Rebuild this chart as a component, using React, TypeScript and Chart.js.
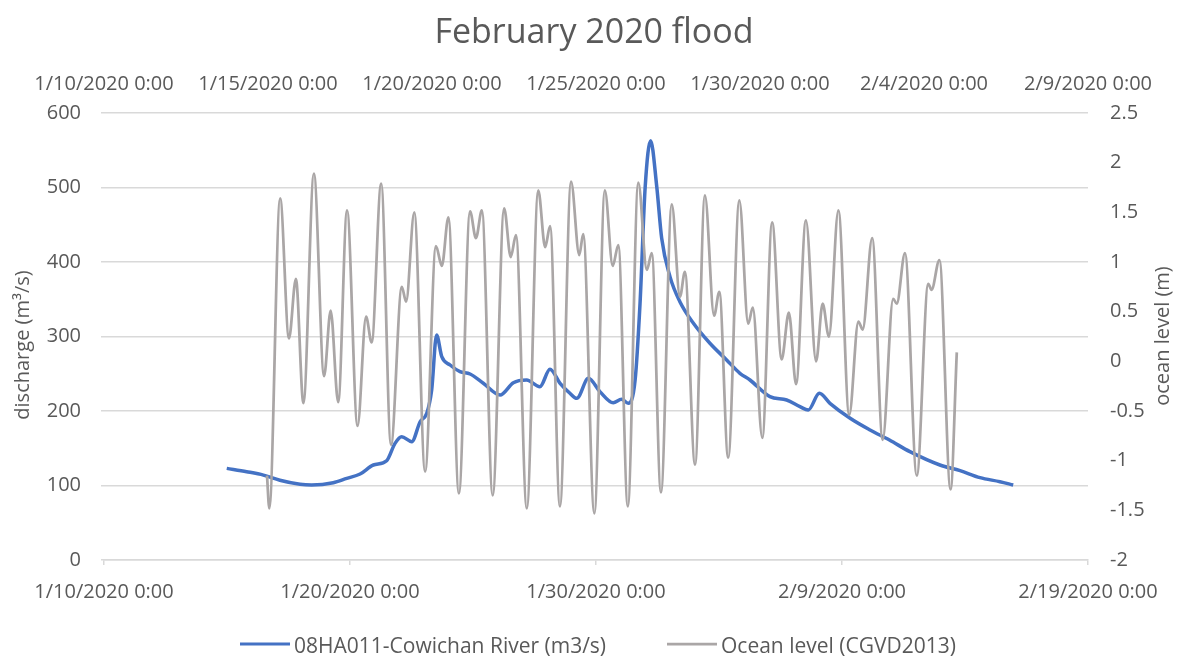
import React, { useEffect, useRef } from "react";
import { Chart, registerables } from "chart.js";

Chart.register(...registerables);

// ---------- data ----------
const chartTitle = "February 2020 flood";
const dischargeLabel = "08HA011-Cowichan River (m3/s)";
const oceanLabel = "Ocean level (CGVD2013)";
const leftAxisTitle = "discharge (m³/s)";
const rightAxisTitle = "ocean level (m)";

// bottom axis (days since 1/10/2020 0:00), step 10 days
const bottomTickLabels = ["1/10/2020 0:00", "1/20/2020 0:00", "1/30/2020 0:00", "2/9/2020 0:00", "2/19/2020 0:00"];
// top axis (days since 1/10/2020 0:00), step 5 days
const topTickLabels = ["1/10/2020 0:00", "1/15/2020 0:00", "1/20/2020 0:00", "1/25/2020 0:00", "1/30/2020 0:00", "2/4/2020 0:00", "2/9/2020 0:00"];

// discharge series (bottom / left axes)
const dischargeDays = [
  4.99, 5.80, 6.48, 7.15, 7.97, 8.44, 9.32, 9.87, 10.41, 10.95, 11.49, 11.83, 12.10, 12.51, 12.85, 13.12,
  13.32, 13.52, 13.73, 14.07, 14.47, 14.88, 15.42, 16.10, 16.64, 17.18, 17.72, 18.13, 18.54, 18.94, 19.22,
  19.69, 20.16, 20.70, 21.04, 21.31, 21.59, 21.79, 22.00, 22.22, 22.47, 22.67, 23.01, 23.41, 23.96, 24.63,
  25.31, 25.85, 26.26, 27.07, 27.75, 28.29, 28.63, 29.08, 29.51, 30.33, 31.14, 31.93, 32.76, 33.98, 34.80,
  35.61, 36.42, 36.96,
];
const dischargeValues = [
  123, 118.5, 114, 107, 101.6, 100.7, 103.8, 109.6, 115.4, 127.5, 133.3, 156.6, 165.5, 158.8, 185.6, 196.9,
  228, 302, 273, 261.7, 252.8, 249.7, 237.2, 221.5, 238, 241.6, 232.6, 256, 237.2, 223.8, 217,
  243.9, 226, 211, 215.7, 210.3, 241.6, 344.5, 501, 562.8, 501, 431.8, 380, 346.7, 317.7, 290.9,
  268.5, 250.6, 241.6, 219.2, 214.8, 205.8, 201.3, 223.8, 210.3, 190.2, 174.5, 161, 145.4, 127.5, 119.9,
  110.5, 105.1, 100.7,
];

// ocean level series (top / right axes) – turning points of the tide
const oceanDays = [
  4.97, 5.04, 5.37, 5.64, 5.85, 6.08, 6.40, 6.71, 6.91, 7.14, 7.41, 7.73, 7.99, 8.16, 8.45, 8.75,
  9.08, 9.21, 9.46, 9.79, 10.12, 10.30, 10.50, 10.82, 11.16, 11.34, 11.52, 11.85, 12.20, 12.40, 12.56,
  12.89, 13.24, 13.45, 13.60, 13.90, 14.24, 14.49, 14.61, 14.95, 15.27, 15.51, 15.68, 15.97, 16.29,
  16.55, 16.70, 16.98, 17.31, 17.56, 17.71, 18.02, 18.32, 18.60, 18.76, 19.03, 19.37, 19.64, 19.78,
  20.07, 20.37, 20.66, 20.88, 21.10, 21.40, 21.71, 21.91, 22.10, 22.39, 22.72, 23.00, 23.13, 23.42,
  23.74, 24.06, 24.17, 24.42, 24.78, 25.13, 25.23, 25.47, 25.81, 26.00,
];
const oceanLevels = [
  -1.15, -1.48, 1.64, 0.23, 0.83, -0.42, 1.89, -0.15, 0.51, -0.41, 1.52, -0.65, 0.45, 0.19, 1.79, -0.84,
  0.75, 0.60, 1.50, -1.11, 1.16, 0.96, 1.45, -1.33, 1.51, 1.24, 1.52, -1.35, 1.54, 1.05, 1.27,
  -1.48, 1.72, 1.15, 1.36, -1.46, 1.81, 1.07, 1.28, -1.53, 1.72, 0.96, 1.17, -1.46, 1.80,
  0.92, 1.09, -1.32, 1.58, 0.65, 0.90, -1.04, 1.67, 0.46, 0.70, -0.97, 1.62, 0.38, 0.54,
  -0.77, 1.40, 0.02, 0.49, -0.23, 1.42, 0.00, 0.58, 0.25, 1.52, -0.54, 0.40, 0.32, 1.24,
  -0.79, 0.63, 0.58, 1.09, -1.15, 0.78, 0.72, 1.02, -1.29, 0.09,
];

// ---------- styling ----------
const FONT = "'Open Sans', 'Noto Sans', sans-serif";
const TEXT = "#595959";
const GRID = "#D9D9D9";
const BLUE = "#4472C4";
const GREY = "#AAA6A6";

const W = 1188;
const H = 656;
const PLOT_LEFT = 104;
const PLOT_RIGHT = 1088;
const PLOT_TOP = 113;
const PLOT_BOTTOM = 560;
const TICK_FONT = 20;
const LEGEND_FONT = 21;
const LEGEND_LINE_Y = 644;
const LEGEND_TEXT_Y = 647;
const LEGEND_ITEMS_X = [240, 667];
const LEGEND_LINE_LEN = 50;
const LEGEND_TEXT_GAP = 4;
const TITLE_FONT = 34;
const TITLE_PAD_TOP = 12.6;
const AXIS_TITLE_FONT = 20;

const axisTitlesPlugin = {
  id: "axisTitles",
  afterDraw(chart: any) {
    const { ctx } = chart;
    const draw = (text: string, x: number, y: number) => {
      ctx.save();
      ctx.translate(x, y);
      ctx.rotate(-Math.PI / 2);
      ctx.font = `${AXIS_TITLE_FONT}px ${FONT}`;
      ctx.fillStyle = TEXT;
      ctx.textAlign = "center";
      ctx.textBaseline = "middle";
      ctx.fillText(text, 0, 0);
      ctx.restore();
    };
    draw(leftAxisTitle, 23, 345);
    draw(rightAxisTitle, 1163, 336);
  },
};

const legendPlugin = {
  id: "bottomLegend",
  afterDraw(chart: any) {
    const { ctx } = chart;
    chart.data.datasets.forEach((ds: any, i: number) => {
      const x = LEGEND_ITEMS_X[i];
      ctx.save();
      ctx.strokeStyle = ds.borderColor;
      ctx.lineWidth = Math.min(ds.borderWidth, 3);
      ctx.beginPath();
      ctx.moveTo(x, LEGEND_LINE_Y);
      ctx.lineTo(x + LEGEND_LINE_LEN, LEGEND_LINE_Y);
      ctx.stroke();
      ctx.font = `${LEGEND_FONT}px ${FONT}`;
      ctx.fillStyle = TEXT;
      ctx.textAlign = "left";
      ctx.textBaseline = "middle";
      ctx.fillText(ds.label, x + LEGEND_LINE_LEN + LEGEND_TEXT_GAP, LEGEND_TEXT_Y);
      ctx.restore();
    });
  },
};

const fmt = (v: any) => String(Math.round(Number(v) * 10) / 10);

export default function App() {
  const ref = useRef<HTMLCanvasElement | null>(null);

  useEffect(() => {
    if (!ref.current) return;
    const titleBlock = TITLE_PAD_TOP + TITLE_FONT * 1.2;

    const chart = new Chart(ref.current, {
      type: "line",
      data: {
        datasets: [
          {
            label: dischargeLabel,
            data: dischargeDays.map((d, i) => ({ x: d, y: dischargeValues[i] })),
            xAxisID: "x",
            yAxisID: "y",
            borderColor: BLUE,
            backgroundColor: BLUE,
            borderWidth: 3.5,
            pointRadius: 0,
            cubicInterpolationMode: "monotone",
            fill: false,
            order: 1,
          },
          {
            label: oceanLabel,
            data: oceanDays.map((d, i) => ({ x: d, y: oceanLevels[i] })),
            xAxisID: "x2",
            yAxisID: "y2",
            borderColor: GREY,
            backgroundColor: GREY,
            borderWidth: 2.75,
            pointRadius: 0,
            cubicInterpolationMode: "monotone",
            fill: false,
            order: 0,
          },
        ],
      },
      options: {
        responsive: false,
        animation: false,
        layout: { padding: 0 },
        plugins: {
          title: {
            display: true,
            text: chartTitle,
            color: TEXT,
            font: { family: FONT, size: TITLE_FONT, weight: "normal" },
            padding: { top: TITLE_PAD_TOP, bottom: 0 },
          },
          legend: { display: false },
          tooltip: { enabled: false },
        },
        scales: {
          x: {
            type: "linear",
            position: "bottom",
            min: 0,
            max: 40,
            ticks: {
              stepSize: 10,
              autoSkip: false,
              maxRotation: 0,
              color: TEXT,
              padding: 15,
              font: { family: FONT, size: TICK_FONT },
              callback: (v: any) => bottomTickLabels[Math.round(Number(v) / 10)],
            },
            grid: { display: true, drawOnChartArea: false, drawTicks: true, tickLength: 5, color: GRID, lineWidth: 1.5 },
            border: { display: true, color: GRID, width: 1.5 },
            afterFit: (s: any) => {
              s.height = H - PLOT_BOTTOM;
            },
          },
          x2: {
            type: "linear",
            position: "top",
            min: 0,
            max: 30,
            ticks: {
              stepSize: 5,
              autoSkip: false,
              maxRotation: 0,
              color: TEXT,
              padding: 17,
              font: { family: FONT, size: TICK_FONT },
              callback: (v: any) => topTickLabels[Math.round(Number(v) / 5)],
            },
            grid: { display: false, drawTicks: false },
            border: { display: false },
            afterFit: (s: any) => {
              s.height = PLOT_TOP - titleBlock;
            },
          },
          y: {
            position: "left",
            min: 0,
            max: 600,
            ticks: { stepSize: 100, color: TEXT, padding: 20, font: { family: FONT, size: TICK_FONT }, callback: fmt },
            grid: { color: GRID, lineWidth: 1.5, drawTicks: true, tickLength: 3 },
            border: { display: false },
            afterFit: (s: any) => {
              s.width = PLOT_LEFT;
            },
          },
          y2: {
            position: "right",
            min: -2,
            max: 2.5,
            ticks: { stepSize: 0.5, color: TEXT, padding: 22, font: { family: FONT, size: TICK_FONT }, callback: fmt },
            grid: { display: false, drawTicks: false },
            border: { display: false },
            afterFit: (s: any) => {
              s.width = W - PLOT_RIGHT;
            },
          },
        },
      } as any,
      plugins: [axisTitlesPlugin, legendPlugin],
    });
    return () => chart.destroy();
  }, []);

  return (
    <div style={{ position: "absolute", left: 0, top: 0, width: W, height: H, background: "#fff" }}>
      <canvas ref={ref} width={W} height={H} style={{ display: "block" }} />
    </div>
  );
}
